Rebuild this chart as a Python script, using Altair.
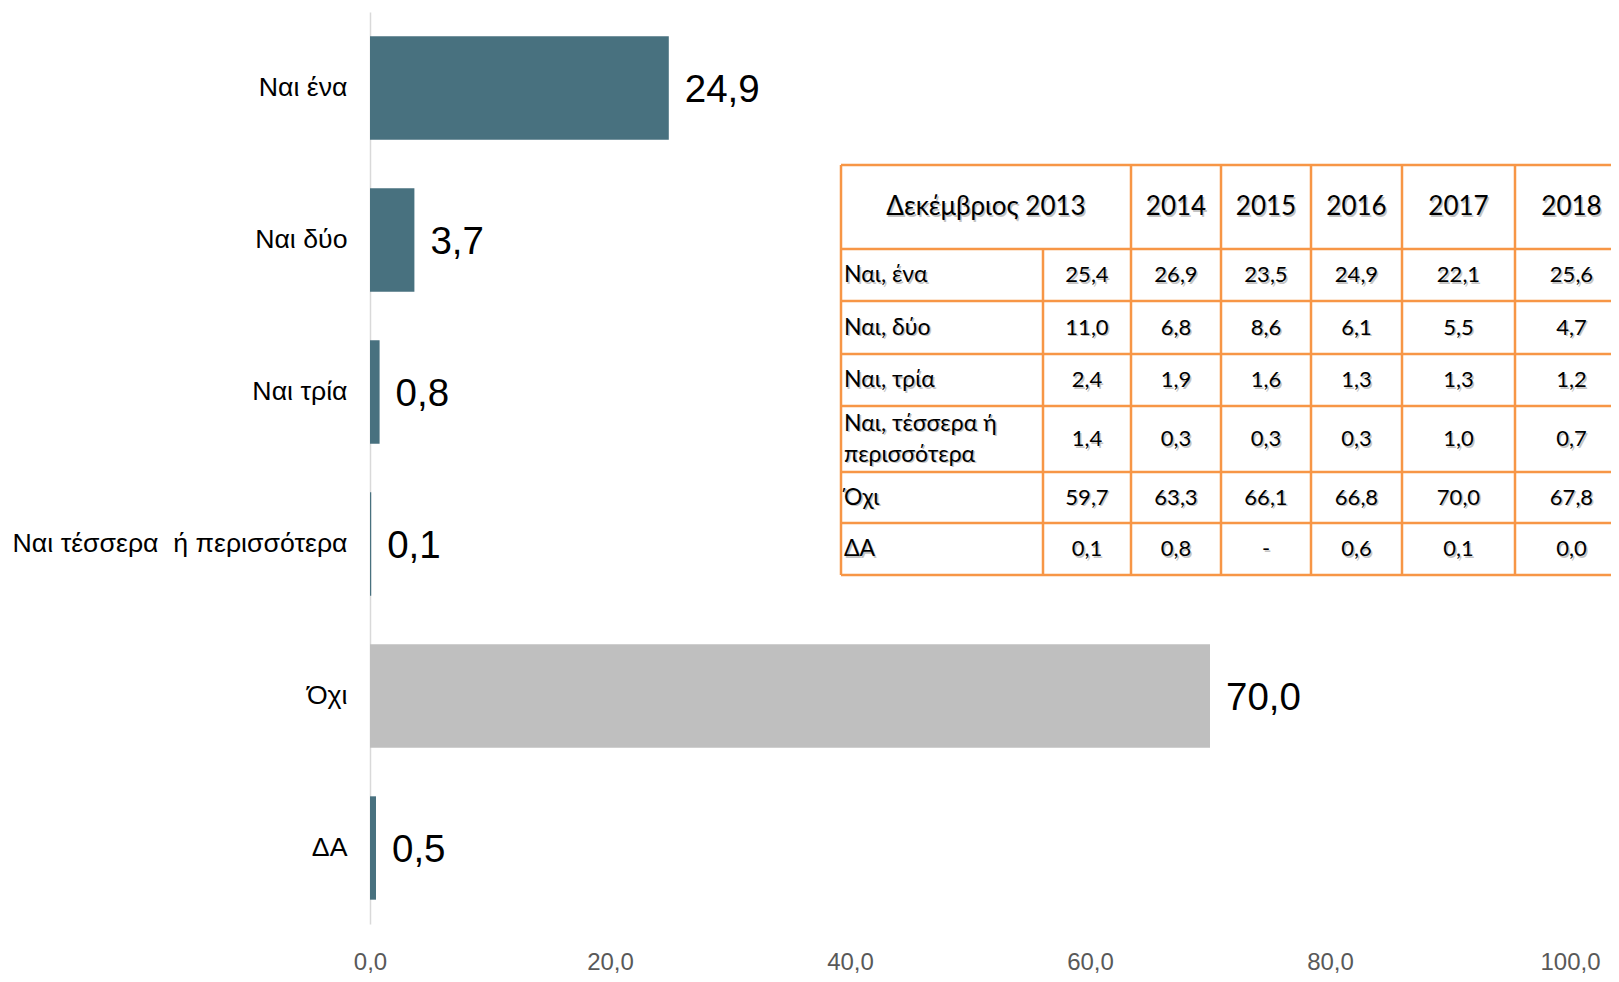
import altair as alt
import pandas as pd
import numpy as np

# ---------------- data ----------------
categories = ["Ναι ένα", "Ναι δύο", "Ναι τρία", "Ναι τέσσερα\u00a0 ή περισσότερα", "Όχι", "ΔΑ"]
values = [24.9, 3.7, 0.8, 0.1, 70.0, 0.5]
bar_group = ["yes", "yes", "yes", "yes", "no", "yes"]
x_ticks = [0, 20, 40, 60, 80, 100]

table_header = ["Δεκέμβριος 2013", "2014", "2015", "2016", "2017", "2018"]
table_rows = ["Ναι, ένα", "Ναι, δύο", "Ναι, τρία", "Ναι, τέσσερα ή\nπερισσότερα", "Όχι", "ΔΑ"]
v2013 = ["25,4", "11,0", "2,4", "1,4", "59,7", "0,1"]
v2014 = ["26,9", "6,8", "1,9", "0,3", "63,3", "0,8"]
v2015 = ["23,5", "8,6", "1,6", "0,3", "66,1", "-"]
v2016 = ["24,9", "6,1", "1,3", "0,3", "66,8", "0,6"]
v2017 = ["22,1", "5,5", "1,3", "1,0", "70,0", "0,1"]
v2018 = ["25,6", "4,7", "1,2", "0,7", "67,8", "0,0"]
table_cols = [v2013, v2014, v2015, v2016, v2017, v2018]

# ---------------- layout (pixels) ----------------
PLOT_W, PLOT_H = 1200, 912
col_widths = [202, 88, 90, 90, 91, 113, 113]      # label col + 6 value cols
row_heights = [84, 52, 53, 52, 66, 51, 52]        # header + 6 rows
TABLE_X0, TABLE_Y0 = 471, 153                     # relative to plot origin
LINE_H = 31
ORANGE = "#F79646"
TEAL = "#48717F"
GREY_BAR = "#BFBFBF"
TABLE_FONT = "Lato"

# ---------------- bar chart ----------------
bars_df = pd.DataFrame({
    "cat": categories,
    "val": values,
    "grp": bar_group,
    "lbl": [f"{v:.1f}".replace(".", ",") for v in values],
})

y_enc = alt.Y("cat:N", sort=categories, title=None,
              scale=alt.Scale(paddingInner=0.32, paddingOuter=0.16),
              axis=alt.Axis(domainColor="#D9D9D9", domainWidth=1.5, ticks=False,
                            labelPadding=23, labelFontSize=26.7, labelColor="#000000",
                            labelFont="Liberation Sans", labelLimit=0, grid=False))
x_enc = alt.X("val:Q", title=None,
              scale=alt.Scale(domain=[0, 100], nice=False),
              axis=alt.Axis(values=x_ticks, domain=False, ticks=False, grid=False,
                            labelExpr="replace(format(datum.value, '.1f'), '.', ',')",
                            labelFontSize=24, labelColor="#595959", labelPadding=26,
                            labelFont="Liberation Sans", labelFlush=False, labelOverlap=False))

bars = alt.Chart(bars_df).mark_bar().encode(
    x=x_enc, y=y_enc,
    color=alt.Color("grp:N", scale=alt.Scale(domain=["yes", "no"], range=[TEAL, GREY_BAR]), legend=None),
)
bar_labels = alt.Chart(bars_df).mark_text(
    align="left", baseline="middle", dx=16, dy=2, fontSize=38.5, font="Liberation Sans", color="#000000"
).encode(x=alt.X("val:Q"), y=alt.Y("cat:N", sort=categories), text="lbl:N")

bar_layer = alt.layer(bars, bar_labels)

# ---------------- table ----------------
xe = np.concatenate([[0], np.cumsum(col_widths)]).tolist()
ye = np.concatenate([[0], np.cumsum(row_heights)]).tolist()
TW, TH = xe[-1], ye[-1]

texts = []
texts.append(dict(x=(xe[0] + xe[2]) / 2, y=(ye[0] + ye[1]) / 2, t=table_header[0], a="center", s=26))
for j in range(1, 6):
    texts.append(dict(x=(xe[j + 1] + xe[j + 2]) / 2, y=(ye[0] + ye[1]) / 2, t=table_header[j], a="center", s=26))
for i, rl in enumerate(table_rows):
    r0, r1 = ye[i + 1], ye[i + 2]
    n_lines = rl.count("\n") + 1
    texts.append(dict(x=xe[0] + 3, y=(r0 + r1) / 2 - (n_lines - 1) * LINE_H / 2, t=rl, a="left", s=23))
    for j, col in enumerate(table_cols):
        texts.append(dict(x=(xe[j + 1] + xe[j + 2]) / 2, y=(r0 + r1) / 2, t=col[i], a="center", s=22))
texts_df = pd.DataFrame(texts)

# grid lines of the table (the right edge lies beyond the picture)
hlines = pd.DataFrame({"x": [xe[0]] * len(ye), "x2": [TW] * len(ye), "y": ye})
vl = []
for k in [0, 2, 3, 4, 5, 6]:
    vl.append(dict(x=xe[k], y=ye[0], y2=ye[1]))
for k in range(0, 7):
    vl.append(dict(x=xe[k], y=ye[1], y2=ye[-1]))
vlines = pd.DataFrame(vl)

tx = alt.Scale(domain=[0, TW], range=[TABLE_X0, TABLE_X0 + TW], nice=False, zero=False)
ty = alt.Scale(domain=[0, TH], range=[TABLE_Y0, TABLE_Y0 + TH], nice=False, zero=False)

h_rules = alt.Chart(hlines).mark_rule(color=ORANGE, strokeWidth=2.5).encode(
    x=alt.X("x:Q", scale=tx, axis=None), x2="x2:Q",
    y=alt.Y("y:Q", scale=ty, axis=None),
)
v_rules = alt.Chart(vlines).mark_rule(color=ORANGE, strokeWidth=2.5).encode(
    x=alt.X("x:Q", scale=tx, axis=None),
    y=alt.Y("y:Q", scale=ty, axis=None), y2="y2:Q",
)

def text_layer(align, color, dx, dy):
    return alt.Chart(texts_df).transform_filter(alt.datum.a == align).mark_text(
        align=align, baseline="middle", font=TABLE_FONT, color=color,
        lineBreak="\n", dx=dx, dy=dy, lineHeight=LINE_H
    ).encode(
        x=alt.X("x:Q", scale=tx, axis=None),
        y=alt.Y("y:Q", scale=ty, axis=None),
        text="t:N",
        size=alt.Size("s:Q", scale=None, legend=None),
    )

table_layer = alt.layer(
    h_rules, v_rules,
    text_layer("center", "#C4C4C4", 1.5, 1.5), text_layer("left", "#C4C4C4", 1.5, 1.5),
    text_layer("center", "#000000", 0, 0), text_layer("left", "#000000", 0, 0),
)

chart = alt.layer(bar_layer, table_layer).resolve_scale(
    x="independent", y="independent"
).properties(
    width=PLOT_W, height=PLOT_H,
    background="white",
    autosize=alt.AutoSizeParams(type="none"),
    padding={"left": 362, "top": 4, "right": 41, "bottom": 50},
).configure_view(strokeWidth=0, stroke=None)

chart.save("out.html", embed_options={"renderer": "svg", "actions": False})
